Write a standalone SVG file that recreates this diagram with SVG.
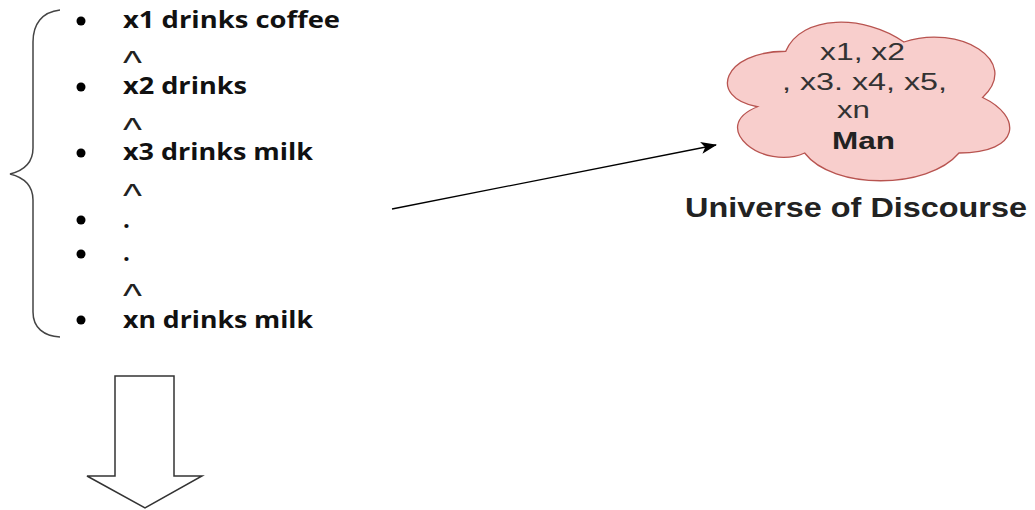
<svg xmlns="http://www.w3.org/2000/svg" width="1035" height="510" viewBox="0 0 1035 510">
  <defs>
    <marker id="arrowhead" viewBox="0 0 16 12" refX="15" refY="6" markerWidth="16" markerHeight="12" markerUnits="userSpaceOnUse" orient="auto">
      <path d="M0,0 L16,6 L0,12 L4,6 Z" fill="#000"/>
    </marker>
    <style>
      .item { font-family: "Open Sans", "Noto Sans", sans-serif; font-weight: 700; font-size: 24px; fill: #111; }
      .caret { font-family: "Liberation Sans", Arial, sans-serif; font-weight: 400; font-size: 34px; fill: #222; }
      .bullet { fill: #000; }
      .cloudtxt { font-family: "Liberation Sans", Arial, sans-serif; font-size: 23px; fill: #333; }
      .bold { font-weight: 700; fill: #222; }
      .label { font-family: "Liberation Sans", Arial, sans-serif; font-weight: 700; font-size: 28px; fill: #222; }
    </style>
  </defs>
  <rect width="1035" height="510" fill="#ffffff"/>

  <g id="list">
    <path d="M60,10 C42,12 33,24 33,42 L33,148 C33,164 22,171 10,174 C22,177 33,184 33,200 L33,312 C33,328 44,336 60,337" fill="none" stroke="#444" stroke-width="1.5"/>
    <circle class="bullet" cx="81" cy="21" r="4.5"/>
    <text class="item" x="123" y="28" textLength="217" lengthAdjust="spacingAndGlyphs">x1 drinks coffee</text>
    <text class="caret" x="123" y="74" textLength="19" lengthAdjust="spacingAndGlyphs">^</text>
    <circle class="bullet" cx="81" cy="87" r="4.5"/>
    <text class="item" x="123" y="94" textLength="124" lengthAdjust="spacingAndGlyphs">x2 drinks</text>
    <text class="caret" x="123" y="141" textLength="19" lengthAdjust="spacingAndGlyphs">^</text>
    <circle class="bullet" cx="81" cy="153" r="4.5"/>
    <text class="item" x="123" y="160" textLength="190" lengthAdjust="spacingAndGlyphs">x3 drinks milk</text>
    <text class="caret" x="123" y="207" textLength="19" lengthAdjust="spacingAndGlyphs">^</text>
    <circle class="bullet" cx="81" cy="220" r="4.5"/>
    <text class="item" x="123" y="228">.</text>
    <circle class="bullet" cx="81" cy="254" r="4.5"/>
    <text class="item" x="123" y="261">.</text>
    <text class="caret" x="123" y="307" textLength="19" lengthAdjust="spacingAndGlyphs">^</text>
    <circle class="bullet" cx="81" cy="320" r="4.5"/>
    <text class="item" x="123" y="328" textLength="190" lengthAdjust="spacingAndGlyphs">xn drinks milk</text>
  </g>

  <g id="block-arrow">
    <polygon points="115,376 174,376 174,476 202,476 145,508 87,476 115,476" fill="#ffffff" stroke="#333" stroke-width="1.5" stroke-linejoin="miter"/>
  </g>

  <g id="cloud">
    <path transform="translate(707,5)" d="M78.75,46.25 C15.75,46.25 0,92.5 50.4,101.75 C0,122.1 56.7,166.5 97.65,148 C126,185 220.5,185 252,148 C315,148 315,111 275.6,92.5 C315,55.5 252,18.5 196.9,37 C157.5,9.25 94.5,9.25 78.75,46.25 Z" fill="#f8cecc" stroke="#b85450" stroke-width="1.3"/>
    <text class="cloudtxt" x="820" y="60" textLength="85" lengthAdjust="spacingAndGlyphs">x1, x2</text>
    <text class="cloudtxt" x="782" y="90" textLength="165" lengthAdjust="spacingAndGlyphs">, x3. x4, x5,</text>
    <text class="cloudtxt" x="837" y="118" textLength="33" lengthAdjust="spacingAndGlyphs">xn</text>
    <text class="cloudtxt bold" x="832" y="149" textLength="63" lengthAdjust="spacingAndGlyphs">Man</text>
  </g>

  <g id="universe-label">
    <text class="label" x="685" y="217" textLength="342" lengthAdjust="spacingAndGlyphs">Universe of Discourse</text>
  </g>

  <g id="connectors">
    <line x1="392" y1="209" x2="716" y2="145" stroke="#000" stroke-width="1.3" marker-end="url(#arrowhead)"/>
  </g>
</svg>
